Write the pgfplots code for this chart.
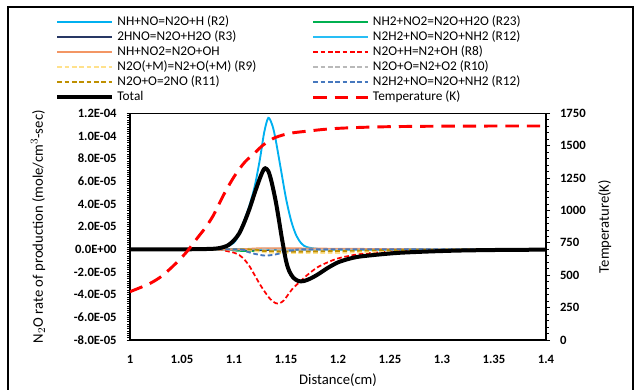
\documentclass[border=0pt]{standalone}
\usepackage{fontspec}
\setmainfont{Carlito}
\usepackage{pgfplots}
\pgfplotsset{compat=1.18}
\definecolor{cR2}{RGB}{0,176,240}
\definecolor{cR23}{RGB}{0,176,80}
\definecolor{cR3}{RGB}{40,56,100}
\definecolor{cR12}{RGB}{40,190,245}
\definecolor{cNO2}{RGB}{243,150,100}
\definecolor{cR9}{RGB}{255,225,140}
\definecolor{cR10}{RGB}{185,185,185}
\definecolor{cR11}{RGB}{191,144,0}
\definecolor{cR12d}{RGB}{70,120,190}
\begin{document}
\begin{tikzpicture}[font=\fontsize{9.5}{11}\selectfont]
\useasboundingbox (0pt,0pt) rectangle (476.25pt,291.75pt);
\draw[black, line width=1pt] (6pt,-5pt) rectangle (474.75pt,286.5pt);
\begin{axis}[
  at={(97.5pt,36.75pt)}, anchor=south west,
  scale only axis, width=312pt, height=170pt,
  xmin=1, xmax=1.4, ymin=-8e-5, ymax=1.2e-4,
  scaled y ticks=false, scaled x ticks=false,
  axis line style={line width=1pt, black},
  xtick={1,1.05,1.1,1.15,1.2,1.25,1.3,1.35,1.4},
  xticklabels={1,1.05,1.1,1.15,1.2,1.25,1.3,1.35,1.4},
  xtick style={draw=none},
  xticklabel style={yshift=-5.5pt},
  ytick={-8e-5,-6e-5,-4e-5,-2e-5,0,2e-5,4e-5,6e-5,8e-5,1e-4,1.2e-4},
  yticklabels={-8.0E-05,-6.0E-05,-4.0E-05,-2.0E-05,0.0E+00,2.0E-05,4.0E-05,6.0E-05,8.0E-05,1.0E-04,1.2E-04},
  ytick pos=left, tick align=outside,
  minor y tick num=9,
  major tick length=2.5pt, minor tick length=2pt,
  tick style={black, line width=0.6pt},
  yticklabel style={xshift=-4pt},
  tick label style={font=\fontsize{9.5}{11}\selectfont\bfseries},
  label style={font=\fontsize{11}{13}\selectfont},
  xlabel={Distance(cm)},
  xlabel style={at={(axis description cs:0.5,-0.176)}, anchor=center},
  ylabel={N$_2$O rate of production (mole/cm$^3$-sec)},
  ylabel style={at={(axis description cs:-0.221,0.5)}, anchor=center},
  legend columns=2,
  legend cell align=left,
  legend image code/.code={\draw[#1] (0pt,0pt) -- (41pt,0pt);},
  legend style={at={(-0.1803,1.429)}, anchor=north west, draw=none, fill=none,
    inner sep=0pt, font=\fontsize{10}{12}\selectfont,
    nodes={inner xsep=2.6pt, inner ysep=0pt, text height=7pt, text depth=2pt},
    row sep=2.25pt,
    /tikz/every even column/.append style={column sep=39pt}},
]
\addplot[cR2, line width=1.4pt, smooth] coordinates {(1,0) (1.08,0) (1.09,0.1e-5) (1.10,0.6e-5) (1.105,1.4e-5) (1.11,2.6e-5) (1.115,3.9e-5) (1.12,5.6e-5) (1.125,8.0e-5) (1.129,10.3e-5) (1.133,11.6e-5) (1.137,10.9e-5) (1.14,9.7e-5) (1.145,7.1e-5) (1.15,4.5e-5) (1.155,2.5e-5) (1.16,1.2e-5) (1.165,0.5e-5) (1.17,0.2e-5) (1.18,0.05e-5) (1.2,0) (1.4,0)};
\addlegendentry{NH+NO=N2O+H (R2)}
\addplot[cR23, line width=1.4pt, smooth] coordinates {(1,0) (1.09,0) (1.10,-0.1e-5) (1.115,-0.15e-5) (1.13,-0.05e-5) (1.15,0) (1.4,0)};
\addlegendentry{NH2+NO2=N2O+H2O (R23)}
\addplot[cR3, line width=1.4pt, smooth] coordinates {(1,0) (1.1,0) (1.13,-0.05e-5) (1.16,0) (1.4,0)};
\addlegendentry{2HNO=N2O+H2O (R3)}
\addplot[cR12, line width=1.4pt, smooth] coordinates {(1,0) (1.1,0) (1.14,0.05e-5) (1.2,0) (1.4,0)};
\addlegendentry{N2H2+NO=N2O+NH2 (R12)}
\addplot[cNO2, line width=1.4pt, smooth] coordinates {(1,0) (1.1,0) (1.13,0.1e-5) (1.2,0.05e-5) (1.3,0) (1.4,0)};
\addlegendentry{NH+NO2=N2O+OH}
\addplot[red, line width=1.3pt, dash pattern=on 3.5pt off 2pt, smooth] coordinates {(1,0) (1.08,0) (1.09,-0.1e-5) (1.10,-0.3e-5) (1.105,-0.5e-5) (1.11,-0.9e-5) (1.115,-1.5e-5) (1.12,-2.3e-5) (1.125,-3.1e-5) (1.13,-3.8e-5) (1.135,-4.4e-5) (1.14,-4.75e-5) (1.144,-4.75e-5) (1.148,-4.5e-5) (1.152,-4.0e-5) (1.157,-3.4e-5) (1.163,-2.9e-5) (1.17,-2.3e-5) (1.18,-1.6e-5) (1.19,-1.15e-5) (1.20,-0.8e-5) (1.215,-0.5e-5) (1.23,-0.33e-5) (1.25,-0.2e-5) (1.28,-0.1e-5) (1.32,-0.05e-5) (1.4,-0.02e-5)};
\addlegendentry{N2O+H=N2+OH (R8)}
\addplot[cR9, line width=1.6pt, dash pattern=on 3.5pt off 2pt, smooth] coordinates {(1,0) (1.1,0) (1.12,-0.15e-5) (1.14,-0.3e-5) (1.2,-0.3e-5) (1.25,-0.15e-5) (1.3,-0.05e-5) (1.4,0)};
\addlegendentry{N2O(+M)=N2+O(+M) (R9)}
\addplot[cR10, line width=1.4pt, dash pattern=on 3.5pt off 2pt, smooth] coordinates {(1,0) (1.12,0) (1.15,-0.05e-5) (1.25,-0.03e-5) (1.4,0)};
\addlegendentry{N2O+O=N2+O2 (R10)}
\addplot[cR11, line width=1.4pt, dash pattern=on 3.5pt off 2pt, smooth] coordinates {(1,0) (1.11,0) (1.13,-0.15e-5) (1.16,-0.2e-5) (1.2,-0.15e-5) (1.26,-0.05e-5) (1.4,0)};
\addlegendentry{N2O+O=2NO (R11)}
\addplot[cR12d, line width=1.4pt, dash pattern=on 3.5pt off 2pt, smooth] coordinates {(1,0) (1.1,0) (1.11,-0.15e-5) (1.12,-0.4e-5) (1.13,-0.55e-5) (1.14,-0.45e-5) (1.15,-0.2e-5) (1.16,-0.05e-5) (1.18,0) (1.4,0)};
\addlegendentry{N2H2+NO=N2O+NH2 (R12)}
\addplot[black, line width=3pt, smooth] coordinates {(1,0) (1.05,0) (1.08,0.05e-5) (1.09,0.2e-5) (1.095,0.4e-5) (1.10,0.8e-5) (1.105,1.4e-5) (1.11,2.4e-5) (1.115,3.6e-5) (1.12,5.0e-5) (1.125,6.3e-5) (1.128,6.95e-5) (1.130,7.15e-5) (1.133,6.9e-5) (1.136,6.0e-5) (1.14,4.3e-5) (1.143,2.7e-5) (1.146,1.0e-5) (1.15,-1.0e-5) (1.153,-1.9e-5) (1.157,-2.5e-5) (1.162,-2.8e-5) (1.167,-2.8e-5) (1.173,-2.6e-5) (1.18,-2.25e-5) (1.19,-1.65e-5) (1.20,-1.15e-5) (1.21,-0.85e-5) (1.22,-0.65e-5) (1.24,-0.45e-5) (1.26,-0.3e-5) (1.29,-0.18e-5) (1.32,-0.1e-5) (1.36,-0.05e-5) (1.4,-0.03e-5)};
\addlegendentry{Total}
\addlegendimage{red, line width=2.2pt, dash pattern=on 10pt off 6pt}
\addlegendentry{Temperature (K)}
\end{axis}
\begin{axis}[
  at={(97.5pt,36.75pt)}, anchor=south west,
  scale only axis, width=312pt, height=170pt,
  xmin=1, xmax=1.4, ymin=0, ymax=1750,
  axis x line=none, axis y line*=right,
  axis line style={line width=1pt, black},
  ytick={0,250,500,750,1000,1250,1500,1750},
  yticklabels={0,250,500,750,1000,1250,1500,1750},
  minor y tick num=4, tick align=outside,
  major tick length=3pt, minor tick length=2.2pt,
  tick style={black, line width=0.6pt},
  yticklabel style={xshift=4pt},
  tick label style={font=\fontsize{9.5}{11}\selectfont\bfseries},
  label style={font=\fontsize{11}{13}\selectfont},
  ylabel={Temperature(K)},
  ylabel style={at={(axis description cs:1.141,0.5)}, anchor=center},
]
\addplot[red, line width=2.2pt, dash pattern=on 10pt off 6pt, smooth] coordinates {(1.0,373) (1.01,405) (1.02,440) (1.03,490) (1.04,560) (1.05,640) (1.056,695) (1.065,790) (1.072,862) (1.08,960) (1.09,1120) (1.10,1260) (1.11,1370) (1.12,1445) (1.128,1505) (1.138,1557) (1.148,1585) (1.157,1600) (1.17,1612) (1.185,1625) (1.2,1634) (1.22,1641) (1.25,1647) (1.3,1651) (1.35,1652) (1.4,1652)};
\end{axis}
\end{tikzpicture}
\end{document}
